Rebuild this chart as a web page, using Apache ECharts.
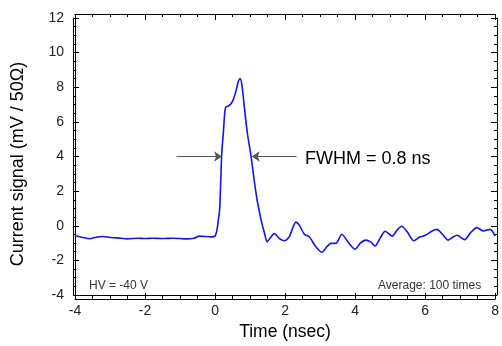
<!DOCTYPE html>
<html>
<head>
<meta charset="utf-8">
<script src="https://cdn.jsdelivr.net/npm/echarts@6/dist/echarts.min.js"></script>
<style>html,body{margin:0;padding:0;background:#fff}#c{width:502px;height:346px}</style>
</head>
<body>
<div id="c"></div>
<script>
const timeNs = [-4.0,-3.8,-3.57,-3.4,-3.2,-3.0,-2.8,-2.5,-2.2,-2.0,-1.8,-1.5,-1.2,-1.0,-0.8,-0.6,-0.45,-0.3,-0.1,0.0,0.05,0.08,0.13,0.16,0.19,0.24,0.28,0.31,0.41,0.51,0.6,0.67,0.72,0.77,0.84,0.92,1.03,1.12,1.21,1.32,1.41,1.49,1.58,1.69,1.84,1.98,2.12,2.31,2.41,2.55,2.69,2.88,3.05,3.2,3.31,3.45,3.62,3.83,4.0,4.15,4.31,4.45,4.57,4.72,4.86,5.06,5.2,5.33,5.49,5.68,5.85,6.01,6.2,6.34,6.5,6.66,6.8,6.91,7.13,7.3,7.48,7.67,7.86,8.0];
const signal = [-0.58,-0.66,-0.75,-0.66,-0.62,-0.68,-0.7,-0.76,-0.72,-0.74,-0.72,-0.74,-0.72,-0.74,-0.76,-0.72,-0.6,-0.62,-0.64,-0.6,-0.3,0.11,0.9,2.4,4.1,5.45,6.6,6.86,6.95,7.23,7.8,8.37,8.5,8.1,6.8,5.4,4.0,2.6,1.4,0.3,-0.4,-0.93,-0.7,-0.45,-0.74,-0.87,-0.64,0.21,0.02,-0.49,-0.64,-1.21,-1.53,-1.2,-1.02,-1.02,-0.49,-1.02,-1.36,-1.0,-0.83,-0.95,-1.17,-0.7,-0.32,-0.6,-0.25,-0.03,-0.35,-0.87,-0.65,-0.55,-0.3,-0.21,-0.5,-0.83,-0.65,-0.55,-0.8,-0.4,-0.11,-0.3,-0.21,-0.6];
const fwhmLevel = 4;
const leftArrow = [-1.1, 0.2];
const rightArrow = [2.33, 1.05];
const xTicks = {min: -4, max: 8, interval: 2};
const yTicks = {min: -4, max: 12, interval: 2};

const FONT = "'Liberation Sans', Arial, sans-serif";
const W = 502, H = 346;
const GRID = {left: 75, right: 5, top: 18, bottom: 47};
const plotW = W - GRID.left - GRID.right;
const plotH = H - GRID.top - GRID.bottom;
const chart = echarts.init(document.getElementById('c'), null, {renderer: 'canvas'});

function tickAxis(range, position, offset) {
  return {
    type: 'value', position: position, offset: offset,
    min: range.min, max: range.max, interval: range.interval,
    axisLine: {show: true, onZero: false, lineStyle: {color: '#000', width: 1}},
    axisTick: {show: true, inside: false, length: 6, lineStyle: {color: '#000', width: 1}},
    minorTick: {show: true, splitNumber: 4, length: 3, lineStyle: {color: '#000', width: 1}},
    axisLabel: {show: false},
    splitLine: {show: false}
  };
}
chart.setOption({
  animation: false,
  grid: GRID,
  xAxis: [
    {type: 'value', position: 'bottom', min: xTicks.min, max: xTicks.max, interval: xTicks.interval,
      name: 'Time (nsec)', nameLocation: 'middle', nameGap: 28,
      nameTextStyle: {fontFamily: FONT, fontSize: 17.5, color: '#000'},
      axisLine: {show: true, onZero: false, lineStyle: {color: '#000', width: 1}},
      axisTick: {show: false}, splitLine: {show: false},
      axisLabel: {fontFamily: FONT, fontSize: 14, color: '#222', margin: 9}},
    tickAxis(xTicks, 'top', -plotH),
    tickAxis(xTicks, 'bottom', -plotH)
  ],
  yAxis: [
    {type: 'value', position: 'left', min: yTicks.min, max: yTicks.max, interval: yTicks.interval,
      axisLine: {show: true, onZero: false, lineStyle: {color: '#000', width: 1}},
      axisTick: {show: false}, splitLine: {show: false},
      axisLabel: {fontFamily: FONT, fontSize: 14, color: '#222', margin: 11}},
    tickAxis(yTicks, 'right', -plotW),
    tickAxis(yTicks, 'left', -plotW)
  ],
  series: [{
    type: 'line',
    data: timeNs.map((t, i) => [t, signal[i]]),
    showSymbol: false,
    smooth: 0.25,
    lineStyle: {color: '#1616e0', width: 1.6},
    markLine: {
      silent: true,
      symbol: ['none', 'arrow'],
      symbolSize: 8,
      lineStyle: {color: '#555', type: 'solid', width: 1},
      itemStyle: {color: '#222'},
      label: {show: false},
      emphasis: {disabled: true},
      data: [
        [{coord: [leftArrow[0], fwhmLevel]}, {coord: [leftArrow[1], fwhmLevel]}],
        [{coord: [rightArrow[0], fwhmLevel]}, {coord: [rightArrow[1], fwhmLevel]}]
      ]
    }
  }],
  graphic: [
    {type: 'text', x: 18, y: 164, rotation: Math.PI / 2, style: {text: 'Current signal (mV / 50Ω)', font: "18px 'Liberation Sans', Arial", fill: '#000', align: 'center', verticalAlign: 'middle'}},
    {type: 'text', x: 305, y: 159, style: {text: 'FWHM = 0.8 ns', font: "18px 'Liberation Sans', Arial", fill: '#000', verticalAlign: 'middle'}},
    {type: 'text', x: 89, y: 286, style: {text: 'HV = -40 V', font: "12px 'Liberation Sans', Arial", fill: '#333', verticalAlign: 'middle'}},
    {type: 'text', x: 378, y: 286, style: {text: 'Average: 100 times', font: "12px 'Liberation Sans', Arial", fill: '#333', verticalAlign: 'middle'}}
  ]
});
</script>
</body>
</html>
